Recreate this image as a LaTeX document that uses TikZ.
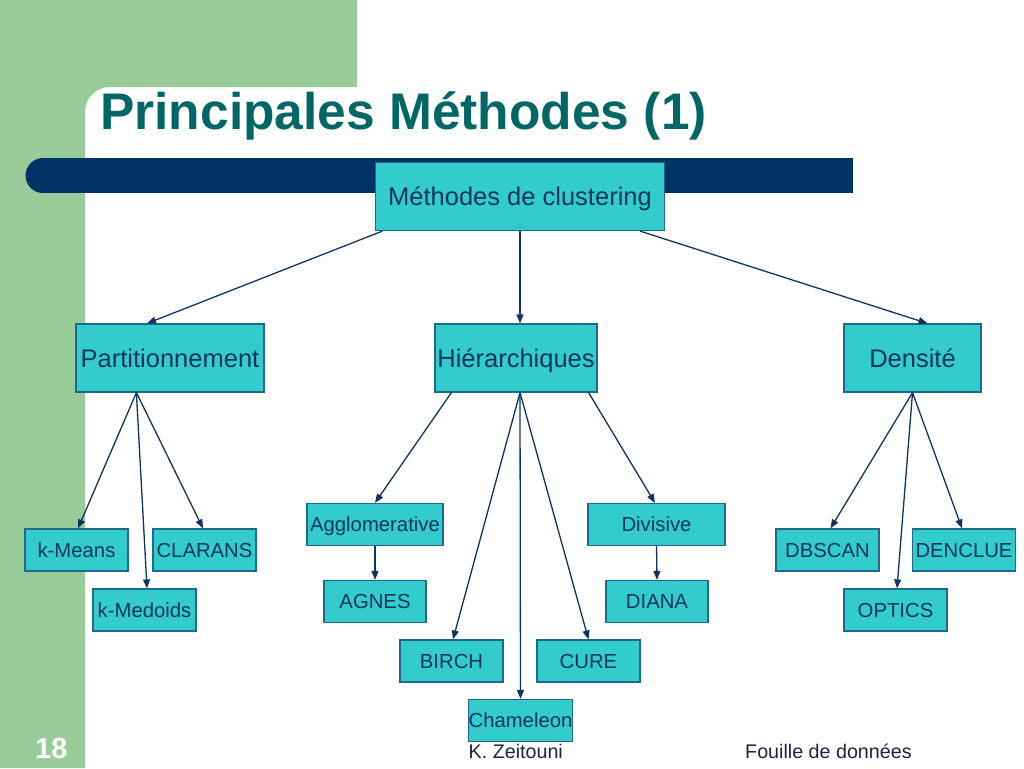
\documentclass[tikz,border=0pt]{standalone}
\usepackage{fontspec}
\setmainfont{Liberation Sans}
\usepackage{tikz}
\usetikzlibrary{arrows.meta}
\definecolor{vert}{HTML}{99CC99}
\definecolor{marine}{HTML}{003366}
\definecolor{turquoise}{HTML}{33CCCC}
\definecolor{bordure}{HTML}{1F6A8A}
\definecolor{encre}{HTML}{0F3463}
\definecolor{titre}{HTML}{006666}
\definecolor{pied}{HTML}{1A2440}
\tikzstyle{methode}=[rectangle, draw=bordure, line width=1.2pt, fill=turquoise, text=encre, inner sep=0pt, minimum height=68pt, text height=18.4pt, text depth=0pt, font=\fontsize{25.5}{30}\selectfont]
\tikzstyle{algo}=[methode, minimum height=42pt, minimum width=103pt, text height=14.6pt, font=\fontsize{20.3}{24}\selectfont]
\tikzstyle{texte}=[anchor=base west, inner sep=0pt]
\newcommand{\methode}{\node[methode]}
\newcommand{\algo}{\node[algo]}

\begin{document}
\begin{tikzpicture}[x=1pt, y=-1pt,
	every edge/.style={
		draw=encre, line width=1.3pt,
		-{Triangle[length=9pt, width=7pt]}
	}
	]
	\useasboundingbox (0,0) rectangle (1024,768);
	\fill[vert] (0,0) -- (357,0) -- (357,87) -- (110,87) .. controls (96,87) and (85,98) .. (85,112) -- (85,768) -- (0,768) -- cycle;
	\fill[marine] (43,158) rectangle (853,193);
	\fill[marine] (43,175.5) circle (17.5pt);
	\node[texte, text=titre, font=\bfseries\fontsize{51.5}{58}\selectfont] (titre) at (100,129) {Principales Méthodes (1)};
	\methode (clust) at (520,196.5) [minimum width=289pt]{Méthodes de clustering};
	\methode (part) at (170,358) [minimum width=188pt]{Partitionnement};
	\methode (hier) at (516,358) [minimum width=162pt]{Hiérarchiques};
	\methode (dens) at (912.5,358) [minimum width=137pt]{Densité};
	\algo (kmeans) at (76.5,550) {k-Means};
	\algo (clarans) at (204.5,550) {CLARANS};
	\algo (kmedoids) at (144.5,610) {k-Medoids};
	\algo (agglo) at (375,524.5) [minimum width=136pt]{Agglomerative};
	\algo (agnes) at (375,601.5) [minimum width=102pt]{AGNES};
	\algo (birch) at (451.5,661) {BIRCH};
	\algo (chameleon) at (520.5,720.5) {Chameleon};
	\algo (cure) at (588.5,661) {CURE};
	\algo (divisive) at (656.5,524.5) [minimum width=137pt]{Divisive};
	\algo (diana) at (657,601.5) [minimum width=102pt]{DIANA};
	\algo (dbscan) at (827.5,550) {DBSCAN};
	\algo (denclue) at (964,550) {DENCLUE};
	\algo (optics) at (895.5,610) {OPTICS};
	\node[texte, text=white, font=\bfseries\fontsize{29}{34}\selectfont] (numero) at (35,758) {18};
	\node[texte, text=pied, font=\fontsize{19.7}{23}\selectfont] (auteur) at (468.5,758) {K. Zeitouni};
	\node[texte, text=pied, font=\fontsize{19.7}{23}\selectfont] (cours) at (745,758) {Fouille de données};
	\path
	([xshift=7.5pt]clust.south west) edge ([xshift=-23pt]part.north)
	(clust.south) edge ([xshift=4pt]hier.north)
	([xshift=-25pt]clust.south east) edge ([xshift=15pt]dens.north)
	([xshift=61pt]part.south west) edge ([xshift=1.5pt]kmeans.north)
	([xshift=61pt]part.south west) edge ([xshift=2.5pt]kmedoids.north)
	([xshift=61pt]part.south west) edge ([xshift=-1.5pt]clarans.north)
	([xshift=17pt]hier.south west) edge (agglo.north)
	([xshift=4pt]hier.south) edge ([xshift=1.5pt]birch.north)
	([xshift=4pt]hier.south) edge (chameleon.north)
	([xshift=4pt]hier.south) edge (cure.north)
	([xshift=-9pt]hier.south east) edge ([xshift=-1.5pt]divisive.north)
	(agglo.south) edge (agnes.north)
	(divisive.south) edge (diana.north)
	(dens.south) edge ([xshift=3pt]dbscan.north)
	(dens.south) edge ([xshift=1.5pt]optics.north)
	(dens.south) edge ([xshift=-2pt]denclue.north)
	;
\end{tikzpicture}
\end{document}
